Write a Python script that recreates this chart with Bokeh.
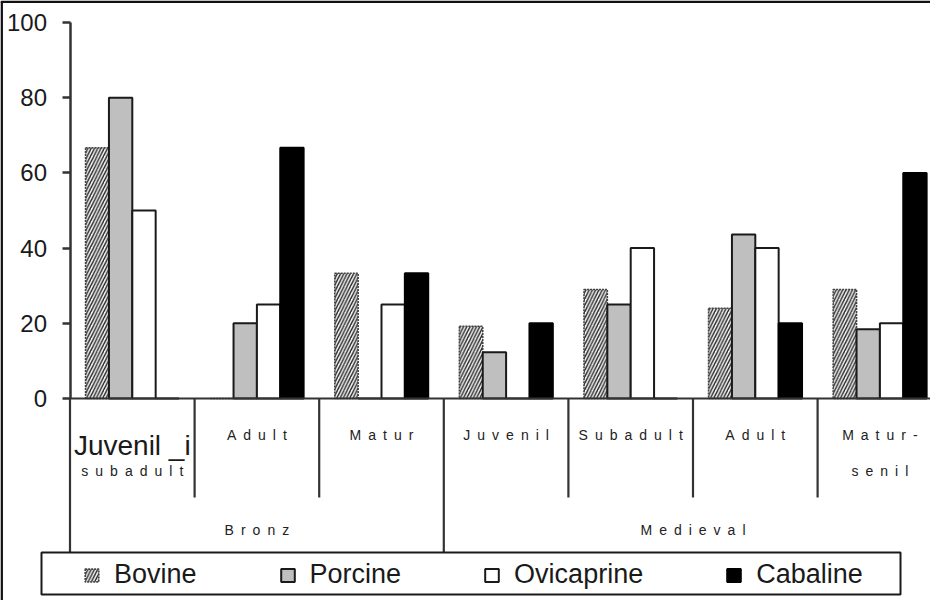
from bokeh.plotting import figure
from bokeh.models import Range1d, LinearAxis, FixedTicker, Legend, LegendItem
from bokeh.core.properties import value
from bokeh.embed import file_html
from bokeh.resources import INLINE

# ---------------- data ----------------
periods = ["Bronz", "Medieval"]
period_sizes = [3, 4]
label_line1 = ["Juvenil _i", "Adult", "Matur", "Juvenil", "Subadult", "Adult", "Matur-"]
label_line2 = ["subadult", "", "", "", "", "", "senil"]
series_names = ["Bovine", "Porcine", "Ovicaprine", "Cabaline"]
bovine = [66.7, 0, 33.3, 19.2, 29.0, 24.0, 29.0]
porcine = [80.0, 20.0, 0, 12.3, 25.0, 43.6, 18.4]
ovicaprine = [50.0, 25.0, 25.0, 0, 40.0, 40.0, 20.0]
cabaline = [0, 66.7, 33.3, 20.0, 0, 20.0, 60.0]
y_ticks = [0, 20, 40, 60, 80, 100]

# ---------------- layout (pixels on the page) ----------------
W, H = 930, 600
ORIGIN = 8
X0_PX, GROUP_PX = 77.5, 124.6
Y0_PX, UNIT_PX = 406.0, 3.76
FONT = "Liberation Sans"
INK = "#1a1a1a"
TEXT_SHIFT = 5


def xd(px):
    return (px - X0_PX) / GROUP_PX


def yd(py):
    return (Y0_PX - py) / UNIT_PX


def spaced(s):
    return "\u2002".join(s)


p = figure(width=W, height=H,
           x_range=Range1d(xd(ORIGIN), xd(ORIGIN + W)),
           y_range=Range1d(yd(ORIGIN + H), yd(ORIGIN)),
           x_axis_location=None, y_axis_location=None,
           toolbar_location=None, output_backend="svg", min_border=0)
p.outline_line_color = None
p.grid.visible = False
p.background_fill_color = "white"
p.border_fill_color = "white"

# y axis at x = 0
yaxis = LinearAxis(fixed_location=0, ticker=FixedTicker(ticks=y_ticks), bounds=(0, 100))
yaxis.axis_line_color = "#333333"
yaxis.axis_line_width = 2.5
yaxis.major_tick_line_color = "#333333"
yaxis.major_tick_line_width = 2.5
yaxis.major_tick_out = 8
yaxis.major_tick_in = 0
yaxis.minor_tick_line_color = None
yaxis.major_label_text_font = FONT
yaxis.major_label_text_font_size = "24px"
yaxis.major_label_text_color = INK
yaxis.major_label_standoff = 15
p.add_layout(yaxis, "left")

n = len(label_line1)
bar_w = 0.1875
series_vals = [bovine, porcine, ovicaprine, cabaline]
styles = [
    dict(fill_color="#f4f4f4", hatch_pattern="/", hatch_color="#2a2a2a", hatch_scale=6.5,
         hatch_weight=1.4, line_color="#444444", line_width=1.6, line_dash="2 1"),
    dict(fill_color="#bfbfbf", line_color=INK, line_width=2),
    dict(fill_color="white", line_color=INK, line_width=2),
    dict(fill_color="black", line_color="black", line_width=2),
]
renderers = []
for k, (vals, st) in enumerate(zip(series_vals, styles)):
    xs = [i + 0.5 + (k - 1.5) * bar_w for i in range(n)]
    r = p.vbar(x=xs, top=vals, bottom=0, width=bar_w, **st)
    renderers.append(r)

# category table lines
y_sub = yd(505)
y_low = yd(560)
bounds = [0]
for s in period_sizes:
    bounds.append(bounds[-1] + s)
x0s, y0s, x1s, y1s = [0], [0], [xd(ORIGIN + W)], [0]
for i in range(n):
    x0s.append(i)
    y0s.append(0)
    x1s.append(i)
    y1s.append(y_low if i in bounds else y_sub)
p.segment(x0=x0s, y0=y0s, x1=x1s, y1=y1s, line_color="#333333", line_width=2.2)

# outer frame (top and left)
p.segment(x0=[xd(ORIGIN), xd(ORIGIN + 1.2)], y0=[yd(ORIGIN + 1.2), yd(ORIGIN + 1.2)],
          x1=[xd(ORIGIN + W), xd(ORIGIN + 1.2)], y1=[yd(ORIGIN + 1.2), yd(ORIGIN + H)],
          line_color="#111111", line_width=2.5)

# category labels
centers = [i + 0.5 for i in range(n)]
p.text(x=centers[:1], y=[yd(458 - TEXT_SHIFT)], text=label_line1[:1], text_font=value(FONT),
       text_font_size="28px", text_align="center", text_baseline="alphabetic", text_color=INK)
p.text(x=centers[1:], y=[yd(447.3 - TEXT_SHIFT)] * (n - 1), text=[spaced(t) for t in label_line1[1:]],
       text_font=value(FONT), text_font_size="14px", text_align="center",
       text_baseline="alphabetic", text_color="#222222")
l2x = [c for c, t in zip(centers, label_line2) if t]
l2t = [spaced(t) for t in label_line2 if t]
p.text(x=l2x, y=[yd(483.3 - TEXT_SHIFT)] * len(l2x), text=l2t, text_font=value(FONT),
       text_font_size="14px", text_align="center", text_baseline="alphabetic", text_color="#222222")
pcx = [(bounds[j] + bounds[j + 1]) / 2 for j in range(len(periods))]
p.text(x=pcx, y=[yd(542.3 - TEXT_SHIFT)] * len(pcx), text=[spaced(t) for t in periods],
       text_font=value(FONT), text_font_size="14px", text_align="center",
       text_baseline="alphabetic", text_color="#222222")

# legend box
p.quad(left=[xd(49)], right=[xd(908)], top=[yd(560)], bottom=[yd(602)],
       fill_color="white", line_color=INK, line_width=2)

legend = Legend(items=[LegendItem(label=nm, renderers=[r]) for nm, r in zip(series_names, renderers)],
                orientation="horizontal", location=(83, 10), padding=5, spacing=82,
                label_standoff=14, glyph_width=17, glyph_height=16,
                label_text_font=FONT, label_text_font_size="27px", label_text_color=INK,
                border_line_color=None, background_fill_alpha=0)
p.add_layout(legend)

open("out.html", "w").write(file_html(p, INLINE))
